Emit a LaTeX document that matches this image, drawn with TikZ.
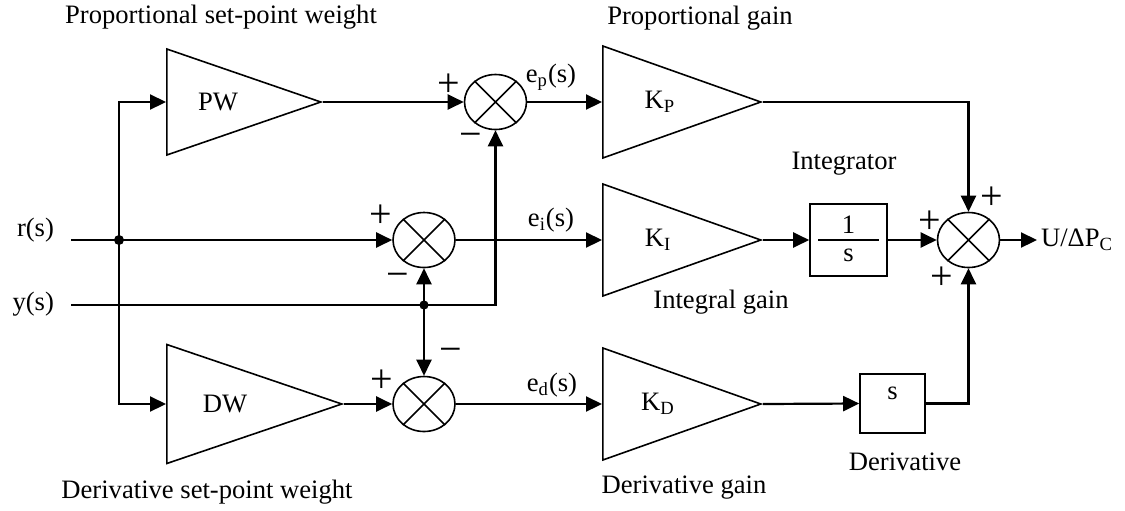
\documentclass[tikz,border=0pt]{standalone}
\usepackage{fontspec}
\setmainfont{Liberation Serif}
\usetikzlibrary{shapes,arrows.meta,positioning,calc}

\begin{document}
\begin{tikzpicture}[x=0.5pt, y=-0.5pt, >={Triangle[length=8pt,width=7.5pt]},
  every node/.style={font=\fontsize{13.3}{16}\selectfont},
  gain/.style={draw, line width=0.8pt, isosceles triangle, isosceles triangle stretches, shape border rotate=0, inner sep=0pt, anchor=lower side},
  sumjoint/.style={draw, line width=0.8pt, ellipse, minimum width=31pt, minimum height=27.5pt, inner sep=0pt},
  tfbox/.style={draw, line width=0.8pt, rectangle, inner sep=0pt},
  sig/.style={inner sep=0pt, font=\fontsize{20}{20}\selectfont},
  wire/.style={line width=1.1pt}]
  \useasboundingbox (0,0) rectangle (1125,510);

  % weights and gains
  \node[gain, minimum height=77pt, minimum width=53pt] (pw) at (166,102) {};
  \node[gain, minimum height=87.5pt, minimum width=59.5pt] (dw) at (166,404) {};
  \node[gain, minimum height=79pt, minimum width=56pt] (kp) at (602,102) {};
  \node[gain, minimum height=79pt, minimum width=56pt] (ki) at (602,240) {};
  \node[gain, minimum height=79pt, minimum width=56pt] (kd) at (602,404) {};

  \node (pwtxt) at ($(pw.lower side)+(52,0)$) {PW};
  \node (dwtxt) at ($(dw.lower side)+(59,0)$) {DW};
  \node (kptxt) at ($(kp.lower side)+(58,0)$) {K\textsubscript{P}};
  \node (kitxt) at ($(ki.lower side)+(56,0)$) {K\textsubscript{I}};
  \node (kdtxt) at ($(kd.lower side)+(56,0)$) {K\textsubscript{D}};

  % summing junctions
  \node[sumjoint] (s1) at (495.5,102) {};
  \node[sumjoint] (s2) at (424,240) {};
  \node[sumjoint] (s3) at (424,404) {};
  \node[sumjoint] (s4) at (968.5,240) {};
  \foreach \s in {s1,s2,s3,s4}
    \draw[line width=0.8pt] (\s.45) -- (\s.225) (\s.135) -- (\s.315);

  % integrator and derivative blocks
  \node[tfbox, minimum width=38.5pt, minimum height=36pt] (ibox) at (848.5,240) {};
  \node (inum) at ($(ibox.center)+(0,-15.5)$) {1};
  \node (iden) at ($(ibox.center)+(0,15)$) {s};
  \draw[line width=0.8pt] ($(ibox.center)+(-30.5,0)$) -- ($(ibox.center)+(30.5,0)$);
  \node[tfbox, minimum width=32.5pt, minimum height=29.5pt] (dbox) at (892.5,403.5) {};
  \node (dtxt) at ($(dbox.center)+(0,-10)$) {s};

  % inputs and output
  \node[anchor=east] (rlab) at (61,230) {r(s)};
  \node[anchor=east] (ylab) at (61,304) {y(s)};
  \coordinate (rin) at (71,240);
  \coordinate (yin) at (71,305);
  \coordinate (jr) at (119,240);
  \coordinate (jy) at (424,305);
  \coordinate (uout) at (1037,240);
  \node[anchor=west] (ulab) at (1034,240) {U/ΔP\textsubscript{C}};

  \draw[wire,->] (rin) -- (s2.west);
  \draw[wire,->] (jr) |- (pw.lower side);
  \draw[wire,->] (jr) |- (dw.lower side);
  \fill (jr) circle (2.5pt);
  \draw[wire,->] (yin) -| (s1.south);
  \draw[wire,->] (jy) -- (s2.south);
  \draw[wire,->] (jy) -- (s3.north);
  \fill (jy) circle (2.3pt);

  \draw[wire,->] (pw.apex) -- (s1.west);
  \draw[wire,->] (dw.apex) -- (s3.west);
  \draw[wire,->] (s1.east) -- (kp.lower side);
  \draw[wire,->] (s2.east) -- (ki.lower side);
  \draw[wire,->] (s3.east) -- (kd.lower side);
  \draw[wire,->] (kp.apex) -| (s4.north);
  \draw[wire,->] (ki.apex) -- (ibox.west);
  \draw[wire,->] (ibox.east) -- (s4.west);
  \draw[wire,->] (kd.apex) -- (dbox.west);
  \draw[wire,->] (dbox.east) -| (s4.south);
  \draw[wire,->] (s4.east) -- (uout);

  % error signals
  \node (eplab) at (551,77) {e\textsubscript{p}(s)};
  \node (eilab) at (551,220) {e\textsubscript{i}(s)};
  \node (edlab) at (552,385) {e\textsubscript{d}(s)};

  % signs
  \node[sig] (s1p) at (449,85) {+};
  \node[sig] (s1m) at (471,140) {−};
  \node[sig] (s2p) at (381,216) {+};
  \node[sig] (s2m) at (398,280) {−};
  \node[sig] (s3p) at (382,381) {+};
  \node[sig] (s3m) at (451,355) {−};
  \node[sig] (s4a) at (992,198) {+};
  \node[sig] (s4b) at (930,222) {+};
  \node[sig] (s4c) at (942,278) {+};

  % block captions
  \node (pswlab) at (221,17) {Proportional set-point weight};
  \node (pglab) at (700,18) {Proportional gain};
  \node (intlab) at (844,164) {Integrator};
  \node (iglab) at (721,302) {Integral gain};
  \node (dglab) at (684,488) {Derivative gain};
  \node (derlab) at (905,462) {Derivative};
  \node (dswlab) at (207,492) {Derivative set-point weight};
\end{tikzpicture}
\end{document}
